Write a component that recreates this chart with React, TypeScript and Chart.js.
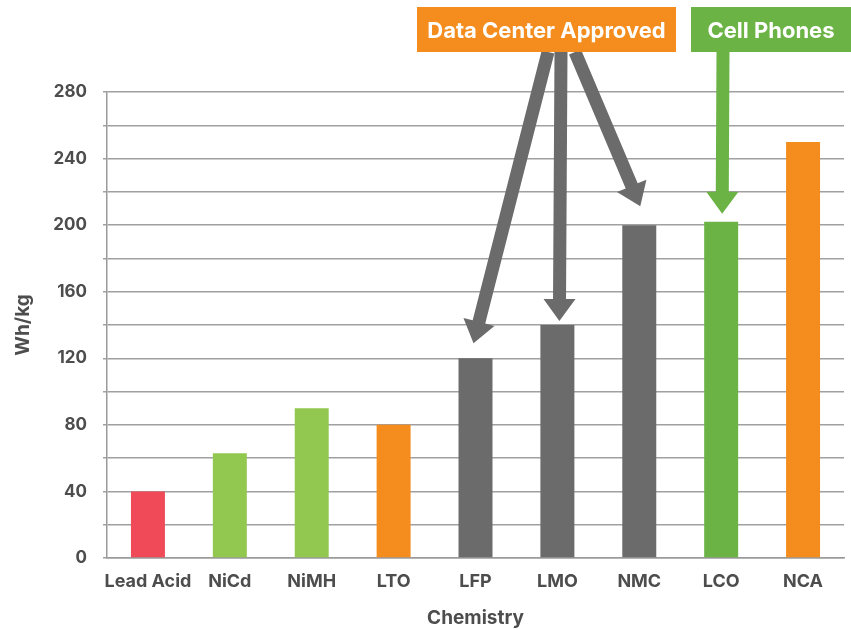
import React, { useEffect, useRef } from "react";
import { Chart, registerables } from "chart.js";

Chart.register(...registerables);

const categories = ["Lead Acid", "NiCd", "NiMH", "LTO", "LFP", "LMO", "NMC", "LCO", "NCA"];
const energyDensity = [40, 63, 90, 80, 120, 140, 200, 202, 250];
const barColors = ["#F04A58", "#92C850", "#92C850", "#F58D1E", "#6B6B6B", "#6B6B6B", "#6B6B6B", "#6BB344", "#F58D1E"];
const yTicks = [0, 40, 80, 120, 160, 200, 240, 280];

const FONT = "Inter, 'Open Sans', sans-serif";
const TEXT = "#4d4d4d";
const GRAY = "#6B6B6B";
const GREEN = "#6BB344";
const ORANGE = "#F58D1E";

// annotation layout (pixels)
const boxes = [
  { text: "Data Center Approved", x: 417, y: 7, w: 259, h: 45, color: ORANGE },
  { text: "Cell Phones", x: 691, y: 7, w: 160, h: 45, color: GREEN },
];
const arrows = [
  { cat: "LFP", sx: 548, sy: 52, dx: -2, dy: -15, color: GRAY },
  { cat: "LMO", sx: 561, sy: 52, dx: 2, dy: -4, color: GRAY },
  { cat: "NMC", sx: 575, sy: 52, dx: 1, dy: -19, color: GRAY },
  { cat: "LCO", sx: 723, sy: 52, dx: 1, dy: -8, color: GREEN },
];

function drawArrow(ctx: CanvasRenderingContext2D, x0: number, y0: number, x1: number, y1: number, color: string) {
  const shaft = 13, headW = 32, headL = 22;
  const len = Math.hypot(x1 - x0, y1 - y0);
  const ux = (x1 - x0) / len, uy = (y1 - y0) / len;
  const px = -uy, py = ux;
  const bx = x1 - ux * headL, by = y1 - uy * headL;
  ctx.save();
  ctx.fillStyle = color;
  ctx.beginPath();
  ctx.moveTo(x0 + px * shaft / 2, y0 + py * shaft / 2);
  ctx.lineTo(bx + px * shaft / 2, by + py * shaft / 2);
  ctx.lineTo(bx + px * headW / 2, by + py * headW / 2);
  ctx.lineTo(x1, y1);
  ctx.lineTo(bx - px * headW / 2, by - py * headW / 2);
  ctx.lineTo(bx - px * shaft / 2, by - py * shaft / 2);
  ctx.lineTo(x0 - px * shaft / 2, y0 - py * shaft / 2);
  ctx.closePath();
  ctx.fill();
  ctx.restore();
}

const annotationPlugin = {
  id: "annotations",
  afterDraw(chart: any) {
    const ctx = chart.ctx as CanvasRenderingContext2D;
    const xs = chart.scales.x;
    const ys = chart.scales.y;
    arrows.forEach((a) => {
      const i = categories.indexOf(a.cat);
      const tx = xs.getPixelForValue(i) + a.dx;
      const ty = ys.getPixelForValue(energyDensity[i]) + a.dy;
      drawArrow(ctx, a.sx, a.sy, tx, ty, a.color);
    });
    boxes.forEach((b) => {
      ctx.save();
      ctx.fillStyle = b.color;
      ctx.fillRect(b.x, b.y, b.w, b.h);
      ctx.fillStyle = "#ffffff";
      ctx.font = `bold 22px ${FONT}`;
      ctx.textAlign = "center";
      ctx.textBaseline = "middle";
      ctx.fillText(b.text, b.x + b.w / 2, b.y + b.h / 2 + 2);
      ctx.restore();
    });
  },
};

export default function App() {
  const ref = useRef<HTMLCanvasElement>(null);
  useEffect(() => {
    if (!ref.current) return;
    const chart = new Chart(ref.current, {
      type: "bar",
      data: {
        labels: categories,
        datasets: [
          {
            label: "Wh/kg",
            data: energyDensity,
            backgroundColor: barColors,
            barPercentage: 0.415,
            categoryPercentage: 1,
          },
        ],
      },
      options: {
        animation: false,
        responsive: true,
        maintainAspectRatio: false,
        layout: { padding: { top: 92, right: 7, left: 0, bottom: 0 } },
        plugins: {
          legend: { display: false },
          tooltip: { enabled: false },
        },
        scales: {
          x: {
            grid: { display: false },
            border: { display: true, color: "#9a9a9a", width: 1.5 },
            ticks: {
              color: TEXT,
              font: { family: FONT, size: 18, weight: "bold" },
              padding: 5,
              maxRotation: 0,
              minRotation: 0,
              autoSkip: false,
            },
            title: {
              display: true,
              text: "Chemistry",
              color: TEXT,
              font: { family: FONT, size: 19, weight: "bold" },
              padding: { top: 0, bottom: 0 },
            },
            afterFit: (s: any) => {
              s.height = 72;
            },
          },
          y: {
            min: 0,
            max: 280,
            grid: { color: "#a0a0a0", lineWidth: 1.5, tickLength: 4, drawTicks: true },
            border: { display: true, color: "#9a9a9a", width: 1.5 },
            ticks: {
              stepSize: 20,
              color: TEXT,
              font: { family: FONT, size: 17, weight: "bold" },
              padding: 16,
              callback: (v: any) => (yTicks.includes(Number(v)) ? String(v) : ""),
            },
            title: {
              display: true,
              text: "Wh/kg",
              color: TEXT,
              font: { family: FONT, size: 19, weight: "bold" },
              padding: { top: 12, bottom: 0 },
            },
            afterFit: (s: any) => {
              s.width = 107;
            },
          },
        },
      },
      plugins: [annotationPlugin],
    });
    return () => chart.destroy();
  }, []);
  return (
    <div style={{ position: "fixed", left: 0, top: 0, width: 851, height: 630, background: "#fff" }}>
      <canvas ref={ref} />
    </div>
  );
}
